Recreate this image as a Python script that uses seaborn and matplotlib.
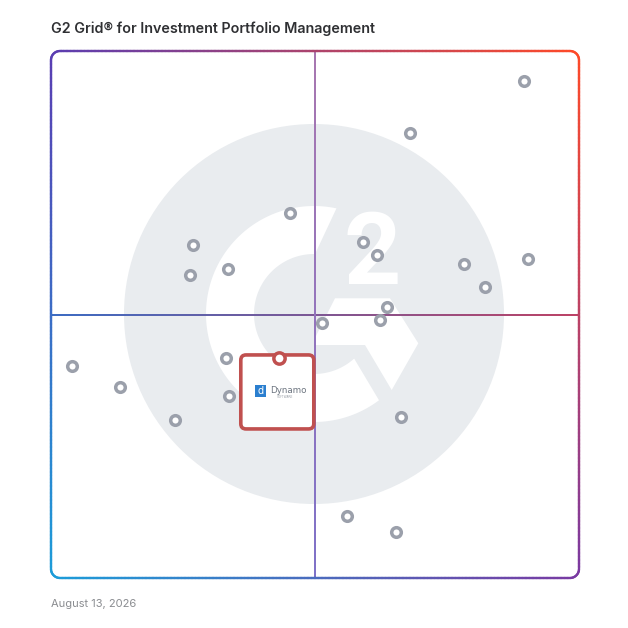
import numpy as np
import matplotlib
matplotlib.use('Agg')
import matplotlib.pyplot as plt
import seaborn as sns
from matplotlib.collections import LineCollection
from matplotlib.patches import Circle, Polygon, FancyBboxPatch, Rectangle
from matplotlib.colors import to_rgb

# ── Data: G2 grid positions (satisfaction on x, market presence on y, 0-100) ──
satisfaction = [89.6, 67.9, 45.2, 26.8, 26.3, 33.5, 59.1, 61.8, 78.3, 90.3, 82.2,
                63.6, 62.3, 51.3, 4.0, 13.1, 33.1, 33.8, 23.4, 66.3, 56.1, 65.3]
market_presence = [94.3, 84.5, 69.2, 63.1, 57.5, 58.7, 63.7, 61.3, 59.6, 60.5, 55.2,
                   51.4, 49.0, 48.4, 40.2, 36.3, 41.7, 34.5, 30.0, 30.6, 11.8, 8.7]

featured_name = 'Dynamo'
featured_sub = 'SOFTWARE'
featured_satisfaction = [43.2]
featured_presence = [41.7]

title = 'G2 Grid\u00ae for Investment Portfolio Management'
report_date = 'August 13, 2026'

# ── Layout (pixels) ──
W = H = 628
GRID_L, GRID_T, GRID_R, GRID_B = 51, 51, 579, 578
MID_X, MID_Y = 315, 315
CORNERS = {'tl': '#5a3db2', 'tr': '#ff4a28', 'bl': '#1c9dd9', 'br': '#7a3aa2'}


def color_at(px, py):
    """Bilinear blend of the four corner colours of the grid frame."""
    u = np.clip((px - GRID_L) / (GRID_R - GRID_L), 0, 1)
    v = np.clip((py - GRID_T) / (GRID_B - GRID_T), 0, 1)
    tl, tr, bl, br = (np.array(to_rgb(CORNERS[k])) for k in ('tl', 'tr', 'bl', 'br'))
    return (1 - u) * (1 - v) * tl + u * (1 - v) * tr + (1 - u) * v * bl + u * v * br


def resample(pts, n=1500):
    pts = np.asarray(pts)
    d = np.r_[0, np.cumsum(np.hypot(*np.diff(pts, axis=0).T))]
    t = np.linspace(0, d[-1], n)
    return np.c_[np.interp(t, d, pts[:, 0]), np.interp(t, d, pts[:, 1])]


def gradient_line(ax, pts, colors=None, lw=1.6, alpha=1.0, z=2):
    pts = resample(pts)
    segs = np.stack([pts[:-1], pts[1:]], axis=1)
    mids = segs.mean(axis=1)
    if colors is None:
        cols = [color_at(x, y) for x, y in mids]
    else:
        c0, c1 = np.array(to_rgb(colors[0])), np.array(to_rgb(colors[1]))
        f = np.linspace(0, 1, len(segs))[:, None]
        cols = (1 - f) * c0 + f * c1
    lc = LineCollection(segs, colors=cols, linewidths=lw, alpha=alpha,
                        zorder=z, capstyle='round')
    ax.add_collection(lc)


def rounded_frame(l, t, r, b, rad, n=40):
    pts = []
    for cx, cy, a0, a1 in [(r - rad, t + rad, -90, 0), (r - rad, b - rad, 0, 90),
                           (l + rad, b - rad, 90, 180), (l + rad, t + rad, 180, 270)]:
        a = np.radians(np.linspace(a0, a1, n))
        pts.extend(zip(cx + rad * np.cos(a), cy + rad * np.sin(a)))
    pts.append(pts[0])
    return pts


def draw_g2_watermark(ax):
    cx, cy = 314, 314
    ax.add_patch(Circle((cx, cy), 190, color='#e9ecef', lw=0, zorder=0))
    # white "G" arc
    outer = np.radians(np.linspace(78, 307, 120))
    inner = np.radians(np.linspace(312, 89, 120))
    g = np.r_[np.c_[cx + 108 * np.cos(outer), cy - 108 * np.sin(outer)],
              np.c_[cx + 60 * np.cos(inner), cy - 60 * np.sin(inner)]]
    ax.add_patch(Polygon(g, closed=True, color='white', lw=0, zorder=1))
    # chevron crossbar
    chevron = [(335, 298.3), (390, 298.3), (418.3, 343.3), (391.7, 390),
               (365, 345), (315, 345), (315, 338)]
    ax.add_patch(Polygon(chevron, closed=True, color='white', lw=0, zorder=1))
    ax.text(372, 284, '2', fontsize=72, fontweight='bold', family='Roboto',
            color='white', ha='center', va='baseline', zorder=1)


sns.set_style('white')
fig = plt.figure(figsize=(6.28, 6.28), dpi=100)

# ── Background / decoration layer in pixel coordinates ──
bg = fig.add_axes([0, 0, 1, 1])
bg.set_xlim(0, W)
bg.set_ylim(H, 0)
bg.axis('off')

draw_g2_watermark(bg)

# quadrant dividers
gradient_line(bg, [(GRID_L, MID_Y), (GRID_R, MID_Y)], colors=('#3c6cc3', '#bd4366'), lw=1.4)
gradient_line(bg, [(MID_X, GRID_T), (MID_X, GRID_B)], colors=('#a877b0', '#7f72c8'), lw=1.4)

# gradient frame
gradient_line(bg, rounded_frame(GRID_L, GRID_T, GRID_R, GRID_B, 9), lw=1.7, z=3)

bg.text(GRID_L, 29, title, fontsize=10.3, fontweight='semibold', family='Inter',
        color='#2f3033', ha='left', va='center')
bg.text(GRID_L, 604, report_date, fontsize=8, family='Inter',
        color='#8a8c90', ha='left', va='center')

# ── Data layer ──
ax = fig.add_axes([GRID_L / W, 1 - GRID_B / H, (GRID_R - GRID_L) / W, (GRID_B - GRID_T) / H])
ax.set_xlim(0, 100)
ax.set_ylim(0, 100)
ax.axis('off')
ax.patch.set_alpha(0)

sns.scatterplot(x=satisfaction, y=market_presence, ax=ax, s=48, color='white',
                edgecolor='#9ba0ab', linewidth=2.5, zorder=3, legend=False)

# featured product card hanging below its marker
ux, uy = 100 / (GRID_R - GRID_L), 100 / (GRID_B - GRID_T)
fx, fy = featured_satisfaction[0], featured_presence[0]
bw, bh = 73 * ux, 74 * uy
bx, by = fx - bw / 2 - 1.8 * ux, fy + 3.3 * uy - bh
ax.add_patch(FancyBboxPatch((bx, by), bw, bh, boxstyle='round,pad=0,rounding_size=1.0',
                            fc='white', ec='#c0504f', lw=2.6, zorder=4))
ccx, ccy = bx + bw / 2, by + bh / 2
ax.add_patch(Rectangle((ccx - 22 * ux, ccy - 5 * uy), 11 * ux, 12 * uy,
                       color='#2b7fcf', lw=0, zorder=5))
ax.text(ccx - 16.5 * ux, ccy + 0.6 * uy, 'd', fontsize=7, color='white',
        ha='center', va='center', zorder=6)
ax.text(ccx - 7.5 * ux, ccy + 1.5 * uy, featured_name, fontsize=6.3, color='#6d7580',
        ha='left', va='center', zorder=6)
ax.text(ccx + 8 * ux, ccy - 5 * uy, featured_sub, fontsize=2.2, color='#9aa0a8',
        ha='center', va='center', zorder=6)

sns.scatterplot(x=featured_satisfaction, y=featured_presence, ax=ax, s=66, color='white',
                edgecolor='#c0504f', linewidth=2.5, zorder=5, legend=False)

fig.savefig('out.png', dpi=100)
